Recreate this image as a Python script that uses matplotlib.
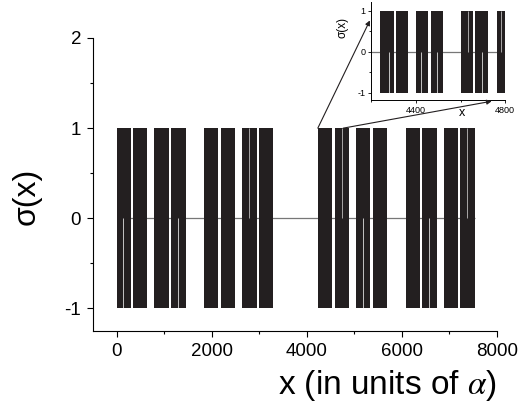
import matplotlib
matplotlib.use('Agg')
import matplotlib.pyplot as plt
from matplotlib.patches import ConnectionPatch
from matplotlib.ticker import MultipleLocator

plt.rcParams['font.family'] = ['Liberation Sans', 'DejaVu Sans']
plt.rcParams['mathtext.fontset'] = 'stix'
plt.rcParams['axes.unicode_minus'] = False

# ---- data: main panel (intervals where sigma oscillates between -1 and 1) ----
main_starts = [0, 340, 780, 1140, 1830, 2190, 2630, 2990, 4230, 4590, 5030, 5385, 6075, 6420, 6880, 7220]
main_ends = [290, 630, 1095, 1450, 2125, 2490, 2945, 3285, 4525, 4885, 5325, 5685, 6380, 6730, 7180, 7530]
main_zero_span = [0, 7530]
main_upper_gaps = [2786, 4730, 7375]
main_lower_gaps = [128, 1291, 5186, 6575]

# ---- data: inset (zoom on 4200-4800) ----
inset_starts = [4242, 4310, 4399, 4466, 4600, 4664, 4764]
inset_ends = [4303, 4365, 4455, 4522, 4657, 4724, 4806]
inset_zero_span = [4200, 4800]
inset_upper_gaps = [4633, 4783]
inset_lower_gaps = [4279, 4425, 4493, 4694]

sigma_high = 1
sigma_low = -1

main_xticks = [0, 2000, 4000, 6000, 8000]
main_yticks = [-1, 0, 1, 2]
inset_xticks = [4400, 4800]
inset_yticks = [-1, 0, 1]

BLOCK = '#231f20'
ZERO = '#777777'


def draw_signal(ax, starts, ends, span, upper, lower, gap_lw):
    ax.plot(span, [0, 0], color=ZERO, lw=0.9, zorder=1, solid_capstyle='butt')
    widths = [e - s for s, e in zip(starts, ends)]
    heights = [sigma_high - sigma_low] * len(starts)
    ax.bar(starts, heights, width=widths, bottom=sigma_low, align='edge',
           color=BLOCK, lw=0, zorder=2)
    ax.vlines(upper, 0, sigma_high, color='white', lw=gap_lw, alpha=0.7, zorder=3)
    ax.vlines(lower, sigma_low, 0, color='white', lw=gap_lw, alpha=0.85, zorder=3)


fig = plt.figure(figsize=(5.19, 4.13), dpi=100)

# ---------------- main axes ----------------
ax = fig.add_axes([93 / 519, (413 - 331) / 413, (497 - 93) / 519, (331 - 38) / 413])
draw_signal(ax, main_starts, main_ends, main_zero_span, main_upper_gaps, main_lower_gaps, 0.6)
ax.set_xlim(-500, 8000)
ax.set_ylim(-1.25, 2)
ax.set_xticks(main_xticks)
ax.set_yticks(main_yticks)
ax.xaxis.set_minor_locator(MultipleLocator(1000))
ax.yaxis.set_minor_locator(MultipleLocator(0.5))
for s in ['top', 'right']:
    ax.spines[s].set_visible(False)
for s in ['left', 'bottom']:
    ax.spines[s].set_linewidth(0.8)
ax.tick_params(which='major', direction='out', length=4.5, width=0.8, labelsize=13.5, pad=4)
ax.tick_params(which='minor', direction='out', length=2, width=0.8)
ax.set_xlabel('x (in units of $\\alpha$)', fontsize=24, loc='right', labelpad=6)
ax.set_ylabel('σ(x)', fontsize=23)
ax.yaxis.set_label_coords(-0.126, 0.46)

# ---------------- inset axes ----------------
axins = fig.add_axes([371 / 519, (413 - 100) / 413, (505.3 - 371) / 519, (100 - 2) / 413])
draw_signal(axins, inset_starts, inset_ends, inset_zero_span, inset_upper_gaps, inset_lower_gaps, 0.6)
axins.set_xlim(4200, 4800)
axins.set_ylim(-1.18, 1.21)
axins.set_xticks(inset_xticks)
axins.set_yticks(inset_yticks)
axins.xaxis.set_minor_locator(MultipleLocator(200))
axins.yaxis.set_minor_locator(MultipleLocator(0.5))
for s in ['top', 'right']:
    axins.spines[s].set_visible(False)
for s in ['left', 'bottom']:
    axins.spines[s].set_linewidth(0.7)
axins.tick_params(which='major', direction='out', length=2.5, width=0.6, labelsize=6.5, pad=1.5)
axins.tick_params(which='minor', direction='out', length=1.5, width=0.6)
axins.set_xlabel('x', fontsize=9)
axins.xaxis.set_label_coords(0.678, -0.07)
axins.set_ylabel('σ(x)', fontsize=8.5)
axins.yaxis.set_label_coords(-0.171, 0.74)

# ---------------- connecting arrows ----------------
con1 = ConnectionPatch(xyA=(4230, sigma_high), coordsA=ax.transData,
                       xyB=(4195, 0.76), coordsB=axins.transData,
                       arrowstyle='-|>', mutation_scale=7, lw=0.8, color=BLOCK)
con2 = ConnectionPatch(xyA=(4764, sigma_high), coordsA=ax.transData,
                       xyB=(4739, -1.21), coordsB=axins.transData,
                       arrowstyle='-|>', mutation_scale=7, lw=0.8, color=BLOCK)
fig.add_artist(con1)
fig.add_artist(con2)

fig.savefig('out.png', dpi=100)
